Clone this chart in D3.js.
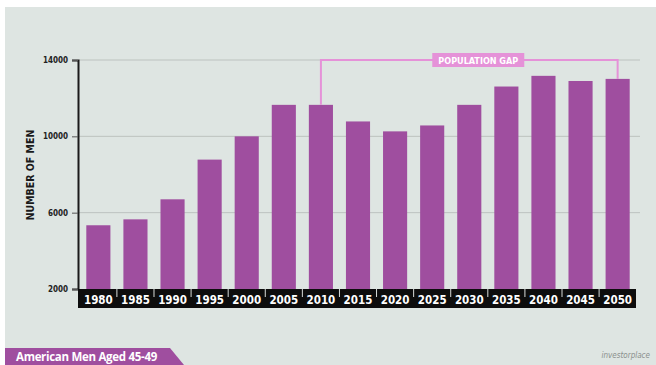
<!DOCTYPE html>
<html>
<head>
<meta charset="utf-8">
<script src="https://cdn.jsdelivr.net/npm/d3@7"></script>
<style>
  html, body { margin: 0; padding: 0; background: #ffffff; }
  svg { display: block; }
  .cond { font-family: "DejaVu Sans Condensed", "DejaVu Sans", sans-serif; font-stretch: condensed; font-weight: bold; }
</style>
</head>
<body>
<div class="mydiv"></div>
<script>
//------------------------------------------------ DATA ----------------------------------------------------
var years = ["1980","1985","1990","1995","2000","2005","2010","2015","2020","2025","2030","2035","2040","2045","2050"];
var men = [5340, 5650, 6700, 8780, 10000, 11650, 11650, 10780, 10260, 10570, 11650, 12610, 13170, 12900, 13010];
var yTicks = [2000, 6000, 10000, 14000];
var gapFrom = "2010", gapTo = "2050";

//------------------------------------------------ SETUP ---------------------------------------------------
var width = 656;
var height = 365;
var purple = "#9f4e9f";
var pink = "#e592d8";

var svg = d3.select(".mydiv").append("svg")
    .attr("width", width)
    .attr("height", height);

// panel
svg.append("rect")
    .attr("x", 5).attr("y", 7)
    .attr("width", width - 5).attr("height", height - 7)
    .attr("fill", "#dee5e2");

var x = d3.scaleBand()
    .domain(years)
    .range([80, 636])
    .paddingInner(0.35)
    .paddingOuter(0.17);

var y = d3.scaleLinear()
    .domain([2000, 14000])
    .range([289, 60]);

// gridlines
svg.append("g")
    .selectAll("line")
    .data(yTicks.filter(function(d){ return d > 2000; }))
    .enter().append("line")
    .attr("x1", 79).attr("x2", 640)
    .attr("y1", function(d){ return y(d); })
    .attr("y2", function(d){ return y(d); })
    .attr("stroke", "#bcc2bf")
    .attr("stroke-width", 1);

//------------------------------------------------ BARS ----------------------------------------------------
svg.append("g")
    .selectAll("rect")
    .data(years)
    .enter().append("rect")
    .attr("x", function(d){ return x(d); })
    .attr("width", x.bandwidth())
    .attr("y", function(d, i){ return y(men[i]); })
    .attr("height", function(d, i){ return y(2000) - y(men[i]); })
    .attr("fill", purple);

//------------------------------------------------ Y AXIS --------------------------------------------------
var yAxis = svg.append("g")
    .attr("transform", "translate(78,0)")
    .call(d3.axisLeft(y).tickValues(yTicks).tickFormat(d3.format("d")).tickSize(6).tickPadding(4));

yAxis.select(".domain").attr("stroke", "#1a1a1a").attr("stroke-width", 2);
yAxis.selectAll(".tick line").attr("stroke", "#555").attr("stroke-width", 1);
yAxis.selectAll(".tick text")
    .attr("class", "cond")
    .attr("font-size", 8)
    .attr("fill", "#222");

svg.append("text")
    .attr("class", "cond")
    .attr("transform", "translate(34,175) rotate(-90)")
    .attr("text-anchor", "middle")
    .attr("font-size", 10.5)
    .attr("fill", "#1a1a1a")
    .text("NUMBER OF MEN");

//------------------------------------------------ X AXIS STRIP --------------------------------------------
svg.append("rect")
    .attr("x", 78).attr("y", 289)
    .attr("width", 558).attr("height", 19)
    .attr("fill", "#0d0d0d");

var step = x.step();
svg.append("g")
    .selectAll("line")
    .data(years.slice(1))
    .enter().append("line")
    .attr("x1", function(d){ return x(d) - step * x.paddingInner() / 2; })
    .attr("x2", function(d){ return x(d) - step * x.paddingInner() / 2; })
    .attr("y1", 289).attr("y2", 297)
    .attr("stroke", "#d8dcda")
    .attr("stroke-width", 1);

svg.append("g")
    .selectAll("text")
    .data(years)
    .enter().append("text")
    .attr("class", "cond")
    .attr("x", function(d){ return x(d) + x.bandwidth() / 2; })
    .attr("y", 303.5)
    .attr("text-anchor", "middle")
    .attr("font-size", 11.5)
    .attr("fill", "#ffffff")
    .text(function(d){ return d; });

//------------------------------------------------ POPULATION GAP ------------------------------------------
var gx1 = x(gapFrom) + x.bandwidth() / 2;
var gx2 = x(gapTo) + x.bandwidth() / 2;
var gy1 = y(men[years.indexOf(gapFrom)]);
var gy2 = y(men[years.indexOf(gapTo)]);
var gTop = y(14000);

svg.append("path")
    .attr("d", "M" + gx1 + "," + gy1 + " V" + gTop + " H" + gx2 + " V" + gy2)
    .attr("fill", "none")
    .attr("stroke", pink)
    .attr("stroke-width", 2);

var labelX = (gx1 + gx2) / 2 + 9;
svg.append("rect")
    .attr("x", labelX - 46).attr("y", gTop - 7)
    .attr("width", 92).attr("height", 14)
    .attr("fill", pink);

svg.append("text")
    .attr("class", "cond")
    .attr("x", labelX).attr("y", gTop + 3.5)
    .attr("text-anchor", "middle")
    .attr("font-size", 9)
    .attr("fill", "#ffffff")
    .text("POPULATION GAP");

//------------------------------------------------ FOOTER --------------------------------------------------
svg.append("path")
    .attr("d", "M5,348 H170 L184,365 H5 Z")
    .attr("fill", purple);

svg.append("text")
    .attr("x", 16).attr("y", 361)
    .attr("font-family", "'Open Sans', 'DejaVu Sans', sans-serif")
    .attr("font-weight", "bold")
    .attr("font-size", 11.5)
    .attr("letter-spacing", -0.3)
    .attr("fill", "#ffffff")
    .text("American Men Aged 45-49");

svg.append("text")
    .attr("x", 650).attr("y", 358)
    .attr("text-anchor", "end")
    .attr("font-family", "'DejaVu Sans Condensed', sans-serif")
    .attr("font-style", "italic")
    .attr("font-size", 8)
    .attr("fill", "#8a8f8d")
    .text("investorplace");
</script>
</body>
</html>
